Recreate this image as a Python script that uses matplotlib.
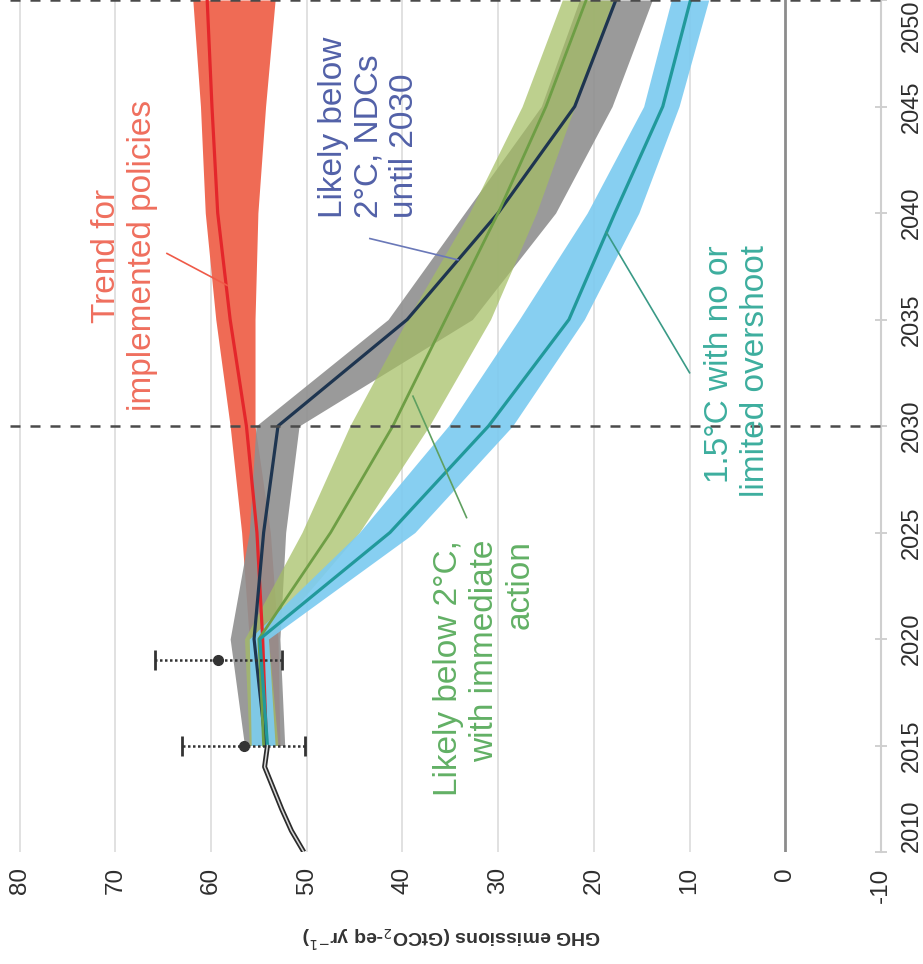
import matplotlib
matplotlib.use("Agg")
import matplotlib.pyplot as plt

# ---- data -------------------------------------------------------------
years = [2015, 2020, 2025, 2030, 2035, 2040, 2045, 2050]

hist_years = [2010, 2011, 2012, 2013, 2014, 2015]
hist_emissions = [50.3, 51.6, 52.6, 53.5, 54.4, 54.1]

obs_years = [2015, 2019]
obs_central = [56.6, 59.3]
obs_low = [50.2, 52.6]
obs_high = [63.0, 65.8]

policies_med = [54.2, 54.6, 55.2, 56.3, 58.0, 59.3, 59.9, 60.4]
policies_low = [52.8, 53.0, 53.8, 55.4, 55.4, 55.1, 54.3, 53.3]
policies_high = [55.4, 56.0, 56.8, 58.0, 59.5, 60.6, 61.1, 61.9]

ndc_med = [54.3, 55.5, 54.5, 53.0, 39.5, 30.0, 22.0, 17.7]
ndc_low = [52.3, 52.8, 52.2, 50.8, 32.7, 24.0, 18.1, 13.9]
ndc_high = [56.5, 58.0, 56.0, 55.3, 41.5, 33.5, 25.5, 21.5]

immediate_med = [54.5, 55.0, 47.5, 41.0, 35.5, 30.0, 25.0, 20.8]
immediate_low = [53.0, 54.0, 44.5, 37.2, 30.8, 26.0, 22.0, 18.0]
immediate_high = [56.0, 56.5, 50.5, 45.5, 39.5, 33.0, 27.5, 23.3]

c15_med = [54.1, 54.9, 41.3, 31.0, 22.6, 17.8, 12.8, 9.9]
c15_low = [53.3, 54.0, 38.7, 28.5, 21.0, 15.3, 11.1, 8.0]
c15_high = [55.8, 56.0, 44.5, 35.2, 27.8, 20.7, 14.8, 11.9]

emission_ticks = [80, 70, 60, 50, 40, 30, 20, 10, 0, -10]
emission_labels = ["80", "70", "60", "50", "40", "30", "20", "10", "0", "-10"]
year_ticks = [2010, 2015, 2020, 2025, 2030, 2035, 2040, 2045, 2050]
year_labels = ["2010", "2015", "2020", "2025", "2030", "2035", "2040", "2045", "2050"]

# ---- figure -----------------------------------------------------------
W, H = 923, 964
fig = plt.figure(figsize=(W / 100, H / 100), dpi=100)
ax = fig.add_axes([10 / W, 1 - 852 / H, (881 - 10) / W, 852 / H])
ax.set_xlim(81.0, -10)
ax.set_ylim(2010, 2050)

sans = ["Liberation Sans", "DejaVu Sans"]

# grid
for v in emission_ticks:
    if v == 0:
        continue
    ax.axvline(v, color="#DEDEDE", lw=1.3, zorder=0)
ax.axvline(0, color="#8C8C8C", lw=2.0, zorder=1)

# bands
ax.fill_betweenx(years, policies_low, policies_high, color="#EF6B55", lw=0, zorder=2)
ax.fill_betweenx(years, ndc_low, ndc_high, color="#8F8F8F", alpha=0.9, lw=0, zorder=3)
ax.fill_betweenx(years, immediate_low, immediate_high, color="#A4BE63", alpha=0.72, lw=0, zorder=4)
ax.fill_betweenx(years, c15_low, c15_high, color="#7DCBF0", alpha=0.92, lw=0, zorder=5)

# medians
ax.plot(policies_med, years, color="#E4262B", lw=2.3, zorder=6)
ax.plot(ndc_med, years, color="#1E3550", lw=2.3, zorder=6)
ax.plot(immediate_med, years, color="#6E9E45", lw=2.0, zorder=6)
ax.plot(c15_med, years, color="#21999B", lw=2.3, zorder=7)

# history
ax.plot(hist_emissions, hist_years, color="#2B2B2B", lw=3.6, zorder=8,
        solid_capstyle="butt")
ax.plot(hist_emissions, hist_years, color="#D8D8D8", lw=1.1, zorder=9)

# observed ranges
ax.hlines(obs_years, obs_low, obs_high, colors="#333333", lw=1.8,
          linestyles=(0, (1, 1)), zorder=10)
ax.plot(obs_low, obs_years, ls="none", marker="|", ms=14, mew=2, color="#333333", zorder=10)
ax.plot(obs_high, obs_years, ls="none", marker="|", ms=14, mew=2, color="#333333", zorder=10)
ax.plot(obs_central, obs_years, ls="none", marker="o", ms=7, color="#333333", zorder=11)

# reference years
for yr in (2030, 2050):
    ax.axhline(yr, color="#4A4A4A", lw=1.8, ls=(0, (4, 4)), zorder=12, clip_on=False)

# axes styling
for s in ("left", "top", "bottom"):
    ax.spines[s].set_visible(False)
ax.spines["right"].set_color("#CFCFCF")
ax.spines["right"].set_linewidth(1.5)

ax.set_xticks(emission_ticks)
ax.set_xticklabels(emission_labels, rotation=90, family=sans, fontsize=17.5, color="#2E2E2E")
ax.tick_params(axis="x", length=0, pad=11)

ax.yaxis.set_ticks_position("right")
ax.set_yticks(year_ticks)
ax.set_yticklabels(year_labels, rotation=90, family=sans, fontsize=17, color="#2E2E2E")
ax.tick_params(axis="y", direction="inout", length=8, width=1.2, color="#C8C8C8", pad=10)
ylabels = ax.get_yticklabels()
for i, lab in enumerate(ylabels):
    if i == 0:
        lab.set_va("bottom")
    elif i == len(ylabels) - 1:
        lab.set_va("top")
    else:
        lab.set_va("center")

fig.text(452 / W, 1 - 937 / H, "GHG emissions (GtCO$_2$-eq yr$^{-1}$)", rotation=180,
         ha="center", va="center", family=sans, fontsize=14, fontweight="bold",
         color="#333333")

# scenario labels
ax.text(69.0, 2038.0, "Trend for\nimplemented policies", rotation=90, ha="center",
        va="center", multialignment="center", family=sans, fontsize=24, color="#EF6F5E",
        zorder=13)
ax.plot([64.6, 58.3], [2038.1, 2036.6], color="#EF5A48", lw=1.2, zorder=13)

ax.text(43.5, 2039.77, "Likely below\n2°C, NDCs\nuntil 2030", rotation=90, ha="center",
        va="bottom", multialignment="left", family=sans, fontsize=24, color="#5261A8",
        zorder=13)
ax.plot([43.4, 34.2], [2038.8, 2037.8], color="#6A78B8", lw=1.2, zorder=13)

ax.text(31.4, 2024.65, "Likely below 2°C,\nwith immediate\naction", rotation=90,
        ha="center", va="top", multialignment="right", family=sans, fontsize=24,
        color="#62B065", zorder=13)
ax.plot([38.9, 33.3], [2031.4, 2025.7], color="#5FA060", lw=1.2, zorder=13)

ax.text(5.0, 2038.5, "1.5°C with no or\nlimited overshoot", rotation=90, ha="center",
        va="top", multialignment="right", family=sans, fontsize=24, color="#3DAE9E",
        zorder=13)
ax.plot([18.7, 10.0], [2039.1, 2032.5], color="#3A9A86", lw=1.2, zorder=13)

fig.savefig("out.png", dpi=100, facecolor="white")
